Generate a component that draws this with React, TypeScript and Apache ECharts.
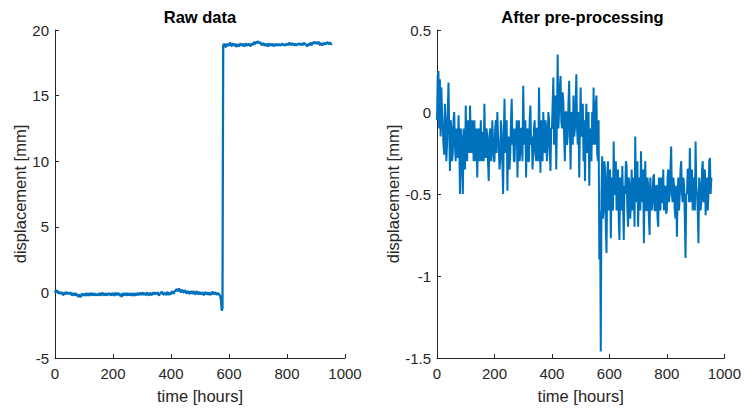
import React, { useEffect, useRef } from "react";
import * as echarts from "echarts";

// samples every 2.5 hours from 0 to 955 h
const STEP_HOURS = 2.5;

const rawDisplacement: number[] = [
  0.15, 0.0, 0.1, 0.15, 0.0, -0.1, 0.05, -0.05, -0.1, 0.0, -0.05, -0.2, -0.15, 0.0, -0.05, -0.15, 0.05, -0.1, -0.1, 0.0,
  -0.15, 0.0, -0.05, -0.2, -0.2, -0.05, -0.1, -0.25, -0.15, -0.05, -0.25, -0.15, -0.35, -0.2, -0.2, -0.35, -0.3, -0.1, -0.15, -0.25,
  -0.1, -0.25, -0.2, -0.05, -0.15, -0.25, -0.05, -0.2, -0.2, -0.05, -0.1, -0.25, -0.15, -0.05, -0.25, -0.1, -0.15, -0.25, -0.1, -0.2,
  -0.2, -0.05, -0.1, -0.25, -0.15, -0.05, -0.05, -0.2, -0.2, -0.1, -0.1, -0.25, -0.15, -0.05, -0.2, -0.1, -0.1, -0.25, -0.15, -0.05,
  -0.1, -0.25, -0.2, -0.05, -0.05, -0.2, -0.15, -0.05, -0.1, -0.2, -0.25, -0.1, -0.35, -0.15, -0.05, -0.2, -0.2, -0.05, -0.1, -0.25,
  -0.15, -0.05, -0.25, -0.1, -0.1, -0.25, -0.2, -0.05, -0.15, -0.25, -0.05, -0.2, -0.2, -0.05, -0.1, -0.2, -0.15, -0.05, -0.05, -0.2,
  -0.1, 0.0, -0.2, -0.1, -0.05, -0.2, -0.15, 0.0, -0.1, -0.2, -0.2, -0.05, -0.05, -0.2, -0.15, -0.05, 0.0, -0.15, -0.1, 0.0,
  -0.15, 0.0, -0.05, -0.2, -0.2, -0.05, -0.1, 0.05, 0.0, -0.15, -0.15, -0.05, -0.05, -0.2, -0.1, 0.05, -0.2, -0.05, -0.05, -0.15,
  -0.1, 0.05, 0.05, -0.1, -0.05, 0.1, 0.1, 0.2, 0.25, 0.1, 0.15, 0.3, 0.2, 0.05, 0.05, 0.2, 0.15, 0.0, 0.0, 0.15,
  0.1, -0.05, -0.05, 0.1, 0.05, -0.1, -0.1, 0.05, 0.05, -0.1, -0.05, 0.1, 0.0, -0.15, -0.1, 0.05, 0.05, -0.1, -0.15, 0.0,
  0.0, -0.15, -0.1, 0.0, -0.05, -0.2, -0.15, 0.0, 0.0, -0.15, -0.1, 0.0, -0.2, -0.05, -0.05, -0.2, -0.1, 0.05, 0.0, -0.15,
  -0.1, 0.0, -0.05, -0.15, -0.15, -0.05, -0.1, -0.2, -0.3, -0.6, -1.4, -1.2, 18.8, 18.95, 18.9, 18.7, 18.75, 18.9, 18.95, 18.8,
  18.85, 19.0, 19.0, 18.8, 18.8, 18.95, 18.95, 18.8, 18.85, 18.95, 18.7, 18.85, 18.9, 18.75, 18.8, 18.95, 18.95, 18.8, 18.85, 18.95,
  18.9, 18.75, 18.8, 18.95, 18.95, 18.8, 18.85, 18.95, 18.9, 18.8, 18.8, 18.95, 18.95, 18.85, 19.0, 19.1, 18.9, 19.05, 19.1, 19.0,
  19.15, 19.05, 19.0, 19.1, 18.95, 18.85, 18.9, 19.0, 18.95, 18.8, 18.85, 18.95, 18.9, 18.75, 18.8, 18.95, 18.95, 18.8, 18.85, 18.95,
  18.9, 18.8, 18.8, 18.95, 18.85, 18.8, 18.9, 18.95, 18.8, 18.9, 18.9, 18.8, 18.85, 18.95, 18.95, 18.85, 18.9, 18.8, 18.85, 18.95,
  18.95, 18.85, 18.9, 19.0, 19.0, 18.85, 18.9, 19.0, 18.95, 18.85, 18.85, 18.95, 18.9, 18.8, 18.95, 18.9, 18.9, 19.0, 18.85, 18.95,
  18.95, 18.85, 18.9, 19.0, 19.0, 18.9, 18.9, 18.8, 18.75, 18.95, 18.9, 18.85, 18.95, 19.05, 18.85, 18.95, 19.0, 19.1, 19.05, 18.95,
  19.1, 19.0, 18.95, 19.1, 19.05, 18.9, 18.85, 19.0, 18.95, 18.85, 18.9, 19.0, 19.0, 18.9, 18.95, 19.05, 19.05, 18.95, 18.95, 19.05,
  19.0, 18.9, 18.95,
];

const processedDisplacement: number[] = [
  -0.05, 0.22, 0.25, -0.1, 0.2, -0.15, 0.15, 0.0, -0.1, -0.2, -0.26, 0.05, -0.05, -0.3, -0.2, 0.0, 0.18, -0.1, -0.36, -0.05,
  -0.1, -0.3, -0.25, -0.05, 0.0, -0.2, -0.3, -0.1, -0.12, -0.28, -0.02, -0.2, -0.5, -0.1, -0.15, -0.35, -0.5, -0.1, -0.2, -0.35,
  0.04, -0.2, -0.3, -0.05, -0.1, -0.25, 0.04, -0.15, -0.25, -0.05, -0.12, -0.3, -0.05, -0.2, -0.3, -0.1, -0.4, -0.2, -0.1, -0.3,
  -0.22, -0.05, -0.3, -0.15, -0.12, -0.3, 0.05, -0.2, -0.28, -0.1, -0.15, -0.3, -0.42, -0.15, -0.1, -0.3, -0.25, -0.05, -0.18, -0.3,
  -0.3, -0.1, -0.05, -0.25, 0.0, -0.15, -0.2, -0.35, -0.3, -0.05, -0.12, -0.3, -0.5, -0.15, 0.08, -0.25, -0.2, -0.05, -0.48, -0.2,
  -0.15, -0.35, -0.25, -0.05, 0.08, -0.2, -0.1, -0.3, -0.3, -0.1, -0.2, -0.05, -0.4, -0.15, -0.05, -0.3, -0.25, -0.1, -0.1, -0.3,
  0.16, -0.1, -0.2, -0.05, -0.4, -0.15, -0.1, -0.3, -0.3, -0.05, 0.04, -0.2, -0.15, -0.35, -0.25, -0.1, -0.05, -0.25, -0.3, -0.1,
  -0.1, -0.3, 0.15, -0.15, -0.37, -0.05, -0.15, -0.3, 0.0, -0.2, -0.25, -0.05, -0.1, -0.3, -0.2, 0.0, -0.05, -0.25, -0.36, -0.1,
  -0.1, 0.05, 0.21, -0.2, -0.05, 0.1, -0.35, -0.05, 0.35, -0.1, 0.0, 0.15, 0.22, -0.05, -0.1, 0.12, 0.05, -0.15, -0.3, 0.0,
  0.0, -0.2, -0.15, 0.05, 0.19, -0.1, -0.35, 0.0, -0.05, -0.2, 0.1, -0.15, -0.1, 0.05, 0.23, -0.1, -0.2, 0.0, -0.4, -0.1,
  0.15, -0.15, -0.1, 0.05, -0.3, -0.05, -0.42, -0.1, 0.05, -0.25, -0.2, 0.0, -0.45, -0.15, -0.1, -0.3, 0.0, -0.2, 0.15, -0.1,
  -0.2, 0.05, 0.1, -0.25, -0.3, -0.05, -0.9, -0.6, -1.46, -0.5, -0.27, -0.65, -0.6, -0.3, -0.35, -0.7, -0.86, -0.4, -0.3, -0.6,
  -0.55, -0.35, -0.77, -0.45, -0.4, -0.6, -0.18, -0.5, -0.5, -0.3, -0.6, -0.4, -0.35, -0.65, -0.78, -0.4, -0.45, -0.6, -0.33, -0.55,
  -0.78, -0.45, -0.5, -0.3, -0.33, -0.6, -0.7, -0.4, -0.45, -0.65, -0.55, -0.35, -0.6, -0.5, -0.4, -0.7, -0.15, -0.55, -0.5, -0.3,
  -0.7, -0.45, -0.4, -0.6, -0.24, -0.5, -0.55, -0.35, -0.8, -0.45, -0.3, -0.6, -0.6, -0.4, -0.45, -0.65, -0.75, -0.4, -0.5, -0.6,
  -0.55, -0.4, -0.38, -0.6, -0.6, -0.45, -0.45, -0.65, -0.7, -0.4, -0.5, -0.6, -0.4, -0.55, -0.55, -0.35, -0.6, -0.5, -0.45, -0.62,
  -0.6, -0.4, -0.35, -0.55, -0.5, -0.35, -0.21, -0.5, -0.55, -0.4, -0.45, -0.6, -0.65, -0.45, -0.76, -0.5, -0.4, -0.6, -0.5, -0.35,
  -0.3, -0.5, -0.55, -0.4, -0.45, -0.65, -0.89, -0.5, -0.5, -0.35, -0.35, -0.55, -0.22, -0.45, -0.55, -0.35, -0.6, -0.45, -0.4, -0.6,
  -0.18, -0.45, -0.5, -0.6, -0.8, -0.4, -0.45, -0.6, -0.55, -0.35, -0.3, -0.55, -0.5, -0.35, -0.63, -0.45, -0.4, -0.6, -0.5, -0.3,
  -0.28, -0.5, -0.4,
];

const titles = ["Raw data", "After pre-processing"];
const xAxisName = "time [hours]";
const yAxisName = "displacement [mm]";

const FONT = '"Liberation Sans", Arial, Helvetica, sans-serif';
const TEXT = "#262626";
const LINE = "#0072BD";

function toPairs(vals: number[]): [number, number][] {
  return vals.map((v, i) => [i * STEP_HOURS, v]);
}

function axisCommon() {
  return {
    axisLine: { show: true, onZero: false, lineStyle: { color: TEXT, width: 1 } },
    axisTick: { show: true, inside: true, length: 4, lineStyle: { color: TEXT } },
    splitLine: { show: false },
    nameTextStyle: { color: TEXT, fontSize: 16.5, fontFamily: FONT },
  };
}

const plain = (v: number) => String(v);

export default function App() {
  const ref = useRef<HTMLDivElement>(null);
  useEffect(() => {
    if (!ref.current) return;
    const chart = echarts.init(ref.current, undefined, { renderer: "svg" });
    const grids = [
      { left: 55, right: 399, top: 30, bottom: 48 },
      { left: 437, right: 16, top: 30, bottom: 48 },
    ];
    chart.setOption({
      animation: false,
      backgroundColor: "#ffffff",
      grid: grids.map((g) => ({ ...g, containLabel: false })),
      xAxis: [0, 1].map((i) => ({
        ...axisCommon(),
        type: "value",
        gridIndex: i,
        min: 0,
        max: 1000,
        interval: 200,
        name: xAxisName,
        nameLocation: "middle",
        nameGap: 29,
        axisLabel: { color: TEXT, fontSize: 15, fontFamily: FONT, margin: 8, formatter: plain },
      })),
      yAxis: [
        {
          ...axisCommon(),
          type: "value",
          gridIndex: 0,
          min: -5,
          max: 20,
          interval: 5,
          name: yAxisName,
          nameLocation: "middle",
          nameGap: 27,
          axisLabel: { color: TEXT, fontSize: 15, fontFamily: FONT, margin: 6, formatter: plain },
        },
        {
          ...axisCommon(),
          type: "value",
          gridIndex: 1,
          min: -1.5,
          max: 0.5,
          interval: 0.5,
          name: yAxisName,
          nameLocation: "middle",
          nameGap: 36,
          axisLabel: { color: TEXT, fontSize: 15, fontFamily: FONT, margin: 6, formatter: plain },
        },
      ],
      series: [
        {
          type: "line",
          xAxisIndex: 0,
          yAxisIndex: 0,
          data: toPairs(rawDisplacement),
          showSymbol: false,
          lineStyle: { color: LINE, width: 2.3 },
          itemStyle: { color: LINE },
        },
        {
          type: "line",
          xAxisIndex: 1,
          yAxisIndex: 1,
          data: toPairs(processedDisplacement),
          showSymbol: false,
          lineStyle: { color: LINE, width: 2 },
          itemStyle: { color: LINE },
        },
      ],
      graphic: [
        {
          type: "text",
          x: 200,
          y: 17,
          style: {
            text: titles[0],
            textAlign: "center",
            textVerticalAlign: "middle",
            font: `bold 16.5px ${FONT}`,
            fill: "#000000",
          },
        },
        {
          type: "text",
          x: 582.5,
          y: 17,
          style: {
            text: titles[1],
            textAlign: "center",
            textVerticalAlign: "middle",
            font: `bold 16.5px ${FONT}`,
            fill: "#000000",
          },
        },
      ],
    });
    return () => chart.dispose();
  }, []);
  return (
    <div
      ref={ref}
      style={{ position: "fixed", left: 0, top: 0, width: 744, height: 409, background: "#fff" }}
    />
  );
}
